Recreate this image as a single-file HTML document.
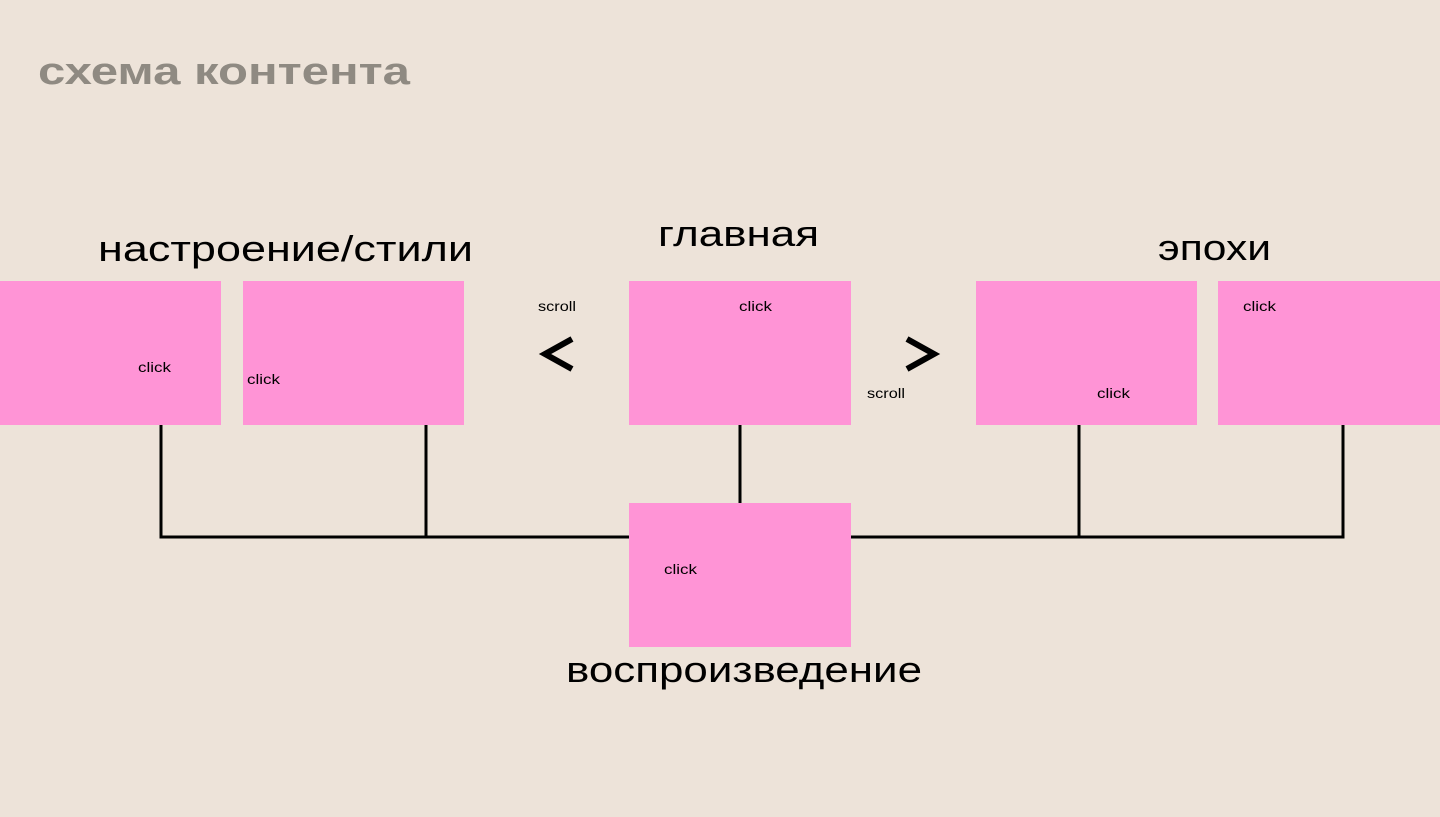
<!DOCTYPE html>
<html><head><meta charset="utf-8"><style>
html,body{margin:0;padding:0;background:#ede3d9;}
svg{display:block}
</style></head><body>
<svg width="1440" height="817" viewBox="0 0 1440 817" xmlns="http://www.w3.org/2000/svg" font-family="Liberation Sans, DejaVu Sans, sans-serif">
<rect width="1440" height="817" fill="#ede3d9"/>
<text x="38" y="84" font-size="38" font-weight="bold" fill="#8f8a82" textLength="372" lengthAdjust="spacingAndGlyphs">схема контента</text>
<g stroke="#000" stroke-width="3" fill="none">
<polyline points="161,425 161,537 629,537"/>
<line x1="426" y1="425" x2="426" y2="537"/>
<line x1="740" y1="425" x2="740" y2="503"/>
<polyline points="851,537 1343,537 1343,425"/>
<line x1="1079" y1="425" x2="1079" y2="537"/>
</g>
<g fill="#ff94d6">
<rect x="0" y="281" width="221" height="144"/>
<rect x="243" y="281" width="221" height="144"/>
<rect x="629" y="281" width="222" height="144"/>
<rect x="976" y="281" width="221" height="144"/>
<rect x="1218" y="281" width="222" height="144"/>
<rect x="629" y="503" width="222" height="144"/>
</g>
<g font-size="36" fill="#000">
<text x="98" y="261" textLength="375" lengthAdjust="spacingAndGlyphs">настроение/стили</text>
<text x="658" y="246" textLength="161" lengthAdjust="spacingAndGlyphs">главная</text>
<text x="1158" y="260" textLength="113" lengthAdjust="spacingAndGlyphs">эпохи</text>
<text x="566" y="682" textLength="356" lengthAdjust="spacingAndGlyphs">воспроизведение</text>
</g>
<g font-size="14" fill="#000">
<text x="138" y="372" textLength="33" lengthAdjust="spacingAndGlyphs">click</text>
<text x="247" y="384" textLength="33" lengthAdjust="spacingAndGlyphs">click</text>
<text x="739" y="311" textLength="33" lengthAdjust="spacingAndGlyphs">click</text>
<text x="1097" y="398" textLength="33" lengthAdjust="spacingAndGlyphs">click</text>
<text x="1243" y="311" textLength="33" lengthAdjust="spacingAndGlyphs">click</text>
<text x="664" y="574" textLength="33" lengthAdjust="spacingAndGlyphs">click</text>
<text x="538" y="311" textLength="38" lengthAdjust="spacingAndGlyphs">scroll</text>
<text x="867" y="398" textLength="38" lengthAdjust="spacingAndGlyphs">scroll</text>
</g>
<g stroke="#000" stroke-width="6" fill="none" stroke-linejoin="miter">
<polyline points="572,339 545,354 572,369"/>
<polyline points="907,339 934,354 907,369"/>
</g>
</svg>
</body></html>
